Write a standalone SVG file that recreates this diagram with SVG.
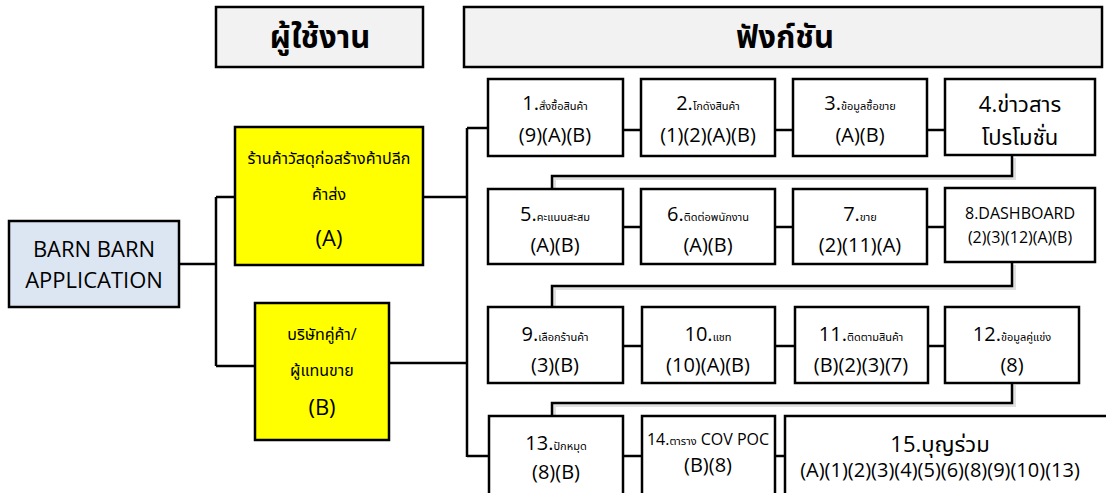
<svg xmlns="http://www.w3.org/2000/svg" width="1106" height="493" viewBox="0 0 1106 493">
<style>
.box{fill:#ffffff;stroke:#000;stroke-width:2.5}
.hdr{fill:#f2f2f2;stroke:#000;stroke-width:2.5}
.yel{fill:#ffff00;stroke:#000;stroke-width:2.5}
.app{fill:#dce6f2;stroke:#000;stroke-width:2.5}
.ln{fill:none;stroke:#000;stroke-width:2.5}
.sh{fill:none;stroke:#000;stroke-opacity:0.12;stroke-width:4}
text{font-family:"Open Sans","Noto Sans Thai","Noto Sans","Liberation Sans",sans-serif;fill:#000;text-anchor:middle}
.t{font-size:20px}
.l{font-size:22px}
.s{font-size:11px}
.m{font-size:16px}
.h{font-size:31px;font-weight:bold}
</style>
<g id="connectors">
<path class="sh" d="M1014,158 V178 H554 V191 M1014,265 V288 H554 V309 M1014,385 V405 H554 V418"/>
<path class="ln" d="M179,264 H216 M216,197 V366 M216,197 H235 M216,366 H255"/>
<path class="ln" d="M423,197 H467 M389,363 H467 M467,128 V457 M467,128 H488 M467,456 H489"/>
<path class="ln" d="M623,130 H641 M775,130 H793 M927,130 H945"/>
<path class="ln" d="M623,227 H641 M775,227 H793 M927,227 H945"/>
<path class="ln" d="M623,346 H642 M775,346 H795 M928,346 H945"/>
<path class="ln" d="M623,456 H642 M775,456 H785"/>
<path class="ln" d="M1012,156 V176 H552 V189 M1012,263 V286 H552 V307 M1012,383 V403 H552 V416"/>
</g>
<g id="hdr-users"><rect class="hdr" x="216" y="7" width="207" height="60"/><text class="h" x="320" y="48">ผู้ใช้งาน</text></g>
<g id="hdr-func"><rect class="hdr" x="464" y="7" width="638" height="60"/><text class="h" x="785" y="48">ฟังก์ชัน</text></g>
<g id="app"><rect class="app" x="9" y="221" width="170" height="86"/><text class="l" x="94" y="257">BARN BARN</text><text class="l" x="94" y="288">APPLICATION</text></g>
<g id="userA"><rect class="yel" x="235" y="127" width="188" height="138"/><text class="m" x="329" y="164">ร้านค้าวัสดุก่อสร้างค้าปลีก</text><text class="m" x="329" y="200">ค้าส่ง</text><text class="l" x="329" y="246">(A)</text></g>
<g id="userB"><rect class="yel" x="255" y="303" width="134" height="137"/><text class="m" x="322" y="340">บริษัทคู่ค้า/</text><text class="m" x="322" y="376">ผู้แทนขาย</text><text class="l" x="322" y="415">(B)</text></g>
<g id="f1"><rect class="box" x="488" y="79" width="135" height="77"/><text x="555" y="110"><tspan class="t">1.</tspan><tspan class="s">สั่งซื้อสินค้า</tspan></text><text class="t" x="555" y="142">(9)(A)(B)</text></g>
<g id="f2"><rect class="box" x="641" y="79" width="134" height="77"/><text x="708" y="110"><tspan class="t">2.</tspan><tspan class="s">โกดังสินค้า</tspan></text><text class="t" x="708" y="142">(1)(2)(A)(B)</text></g>
<g id="f3"><rect class="box" x="793" y="79" width="134" height="77"/><text x="860" y="110"><tspan class="t">3.</tspan><tspan class="s">ข้อมูลซื้อขาย</tspan></text><text class="t" x="860" y="142">(A)(B)</text></g>
<g id="f4"><rect class="box" x="945" y="79" width="150" height="76"/><text class="l" x="1020" y="112">4.ข่าวสาร</text><text class="l" x="1020" y="145">โปรโมชั่น</text></g>
<g id="f5"><rect class="box" x="488" y="189" width="135" height="75"/><text x="555" y="221"><tspan class="t">5.</tspan><tspan class="s">คะแนนสะสม</tspan></text><text class="t" x="555" y="252">(A)(B)</text></g>
<g id="f6"><rect class="box" x="641" y="189" width="134" height="75"/><text x="708" y="221"><tspan class="t">6.</tspan><tspan class="s">ติดต่อพนักงาน</tspan></text><text class="t" x="708" y="252">(A)(B)</text></g>
<g id="f7"><rect class="box" x="793" y="189" width="134" height="75"/><text x="860" y="221"><tspan class="t">7.</tspan><tspan class="s">ขาย</tspan></text><text class="t" x="860" y="252">(2)(11)(A)</text></g>
<g id="f8"><rect class="box" x="945" y="188" width="150" height="74"/><text class="m" x="1020" y="219">8.DASHBOARD</text><text class="m" x="1020" y="243">(2)(3)(12)(A)(B)</text></g>
<g id="f9"><rect class="box" x="488" y="307" width="135" height="76"/><text x="555" y="341"><tspan class="t">9.</tspan><tspan class="s">เลือกร้านค้า</tspan></text><text class="t" x="555" y="372">(3)(B)</text></g>
<g id="f10"><rect class="box" x="642" y="307" width="133" height="76"/><text x="708" y="341"><tspan class="t">10.</tspan><tspan class="s">แชท</tspan></text><text class="t" x="708" y="372">(10)(A)(B)</text></g>
<g id="f11"><rect class="box" x="795" y="307" width="133" height="76"/><text x="861" y="341"><tspan class="t">11.</tspan><tspan class="s">ติดตามสินค้า</tspan></text><text class="t" x="861" y="372">(B)(2)(3)(7)</text></g>
<g id="f12"><rect class="box" x="945" y="307" width="134" height="76"/><text x="1012" y="341"><tspan class="t">12.</tspan><tspan class="s">ข้อมูลคู่แข่ง</tspan></text><text class="t" x="1012" y="372">(8)</text></g>
<g id="f13"><rect class="box" x="489" y="416" width="134" height="82"/><text x="556" y="450"><tspan class="t">13.</tspan><tspan class="s">ปักหมุด</tspan></text><text class="t" x="556" y="479">(8)(B)</text></g>
<g id="f14"><rect class="box" x="642" y="416" width="133" height="82"/><text x="708" y="445"><tspan class="m">14.</tspan><tspan class="s">ตาราง</tspan><tspan class="m"> COV POC</tspan></text><text class="t" x="708" y="472">(B)(8)</text></g>
<g id="f15"><rect class="box" x="785" y="416" width="330" height="82"/><text class="l" x="940" y="452">15.บุญร่วม</text><text class="t" x="940" y="477">(A)(1)(2)(3)(4)(5)(6)(8)(9)(10)(13)</text></g>
</svg>
